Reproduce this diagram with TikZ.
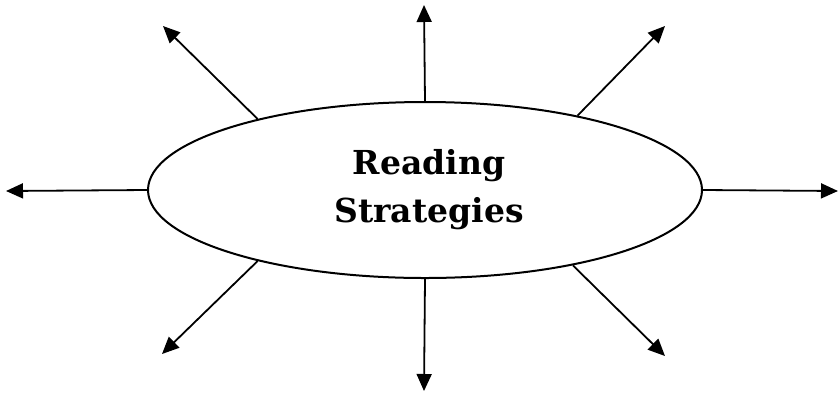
\documentclass[tikz,border=0pt]{standalone}
\usepackage{fontspec}
\setmainfont{DejaVu Serif}
\usetikzlibrary{arrows.meta,shapes.geometric}
\begin{document}
\begin{tikzpicture}[x=1pt,y=-1pt,
  spoke/.style={line width=1.8pt,-{Triangle[length=17pt,width=15pt]}},
  oval/.style={draw,ellipse,line width=2pt,minimum width=554pt,minimum height=176pt,inner sep=0pt},
  title/.style={align=center,font=\fontsize{33}{48}\selectfont\bfseries}]
\useasboundingbox (0,0) rectangle (838,392);
\node[oval] (e) at (425,190) {};
\node[title] (t) at (429,190) {Reading\\Strategies};
\coordinate (n) at (424,5);
\coordinate (s) at (424,391);
\coordinate (w) at (6,191);
\coordinate (o) at (838,191);
\coordinate (nw) at (163,26);
\coordinate (ne) at (665,26);
\coordinate (sw) at (162,354);
\coordinate (se) at (665,356);
\draw[spoke] (e.north) -- (n);
\draw[spoke] (e.south) -- (s);
\draw[spoke] (e.west) -- (w);
\draw[spoke] (e.east) -- (o);
\draw[spoke] (e.157) -- (nw);
\draw[spoke] (e.26) -- (ne);
\draw[spoke] (e.203) -- (sw);
\draw[spoke] (e.333) -- (se);
\end{tikzpicture}
\end{document}
